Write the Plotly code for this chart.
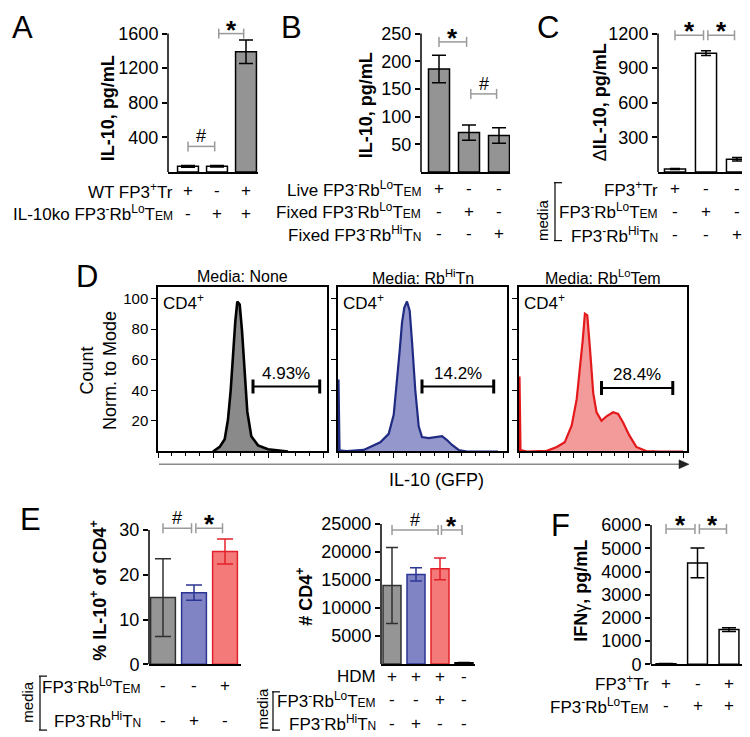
import plotly.graph_objects as go

W, H = 750, 737
FONT = "Liberation Sans, Arial, Helvetica, sans-serif"


def X(px):
    return px / W


def Y(py):
    return 1 - py / H


EM = "<span style='font-size:12px'>EM</span>"
TN = "<span style='font-size:12px'>N</span>"
LO_EM = "FP3<sup>-</sup>Rb<sup>Lo</sup>T" + EM
HI_N = "FP3<sup>-</sup>Rb<sup>Hi</sup>T" + TN

# ---------------- data ----------------
# Panel A
A_values = [65, 65, 1390]
A_errors = [10, 8, 135]
A_ticks = [400, 800, 1200, 1600]
A_rows = ["WT FP3<sup>+</sup>Tr", "IL-10ko " + LO_EM]
A_signs = [["+", "-", "+"], ["-", "+", "+"]]
A_sig = [(0, 1, "#", 295), (1, 2, "*", 1600)]

# Panel B
B_values = [186, 71, 66]
B_errors = [25, 14, 14]
B_ticks = [50, 100, 150, 200, 250]
B_rows = ["Live " + LO_EM, "Fixed " + LO_EM, "Fixed " + HI_N]
B_signs = [["+", "-", "-"], ["-", "+", "-"], ["-", "-", "+"]]
B_sig = [(0, 1, "*", 235), (1, 2, "#", 141)]

# Panel C
C_values = [25, 1030, 110]
C_errors = [5, 20, 15]
C_ticks = [300, 600, 900, 1200]
C_rows = ["FP3<sup>+</sup>Tr", LO_EM, HI_N]
C_signs = [["+", "-", "-"], ["-", "+", "-"], ["-", "-", "+"]]
C_sig = [(0, 1, "*", 1185), (1, 2, "*", 1185)]

# Panel D (histograms, % of mode vs GFP channel)
D_titles = ["Media: None", "Media: Rb<sup>Hi</sup>Tn", "Media: Rb<sup>Lo</sup>Tem"]
D_pct = ["4.93%", "14.2%", "28.4%"]
D_ticks = [20, 40, 60, 80, 100]
D1_x = [55, 61.7, 66.7, 70, 72.7, 75, 77.3, 79.3, 81.7, 84, 86.7, 89.3, 93.3, 100, 110, 123, 130]
D1_y = [0, 3, 8, 21, 40, 64, 85, 98, 96, 79, 51, 26, 10, 4, 1.5, 0.3, 0]
D2_x = [0, 0.5, 1.5, 3, 9, 25.7, 42.3, 50.7, 55.7, 59, 61.7, 64, 66.3, 69, 71.7, 74, 77.3,
        80.7, 84, 90.7, 97.7, 104, 109, 114, 120.7, 129, 160]
D2_y = [0, 47, 1, 0.5, 0.3, 1, 6, 11.5, 24, 45, 66, 84, 94, 98, 92, 72, 40,
        16.5, 9.4, 8.8, 9.4, 10, 7.5, 4.3, 1, 0, 0]
D3_x = [0, 0.5, 1.5, 8, 28, 38, 46, 53, 58, 61.3, 64, 66.3, 68.7, 71.3, 74.7, 78, 83, 88,
        94.7, 99.7, 104.7, 111, 118, 128, 141, 165]
D3_y = [0, 49, 1, 0, 0.4, 3, 6, 17, 34, 53, 72, 90, 89, 68, 38, 25.6, 20, 23,
        25.6, 24.6, 19, 10.5, 3, 0.3, 0, 0]
D_gates = [(95, 161.7, 42.5), (84, 155.7, 42.5), (83, 154.7, 41.5)]

# Panel E (left: % IL-10+, right: # CD4+)
E1_values = [14.9, 16.0, 25.2]
E1_errors = [8.7, 1.7, 2.8]
E1_ticks = [0, 10, 20, 30]
E1_rows = [LO_EM, HI_N]
E1_signs = [["-", "-", "+"], ["-", "+", "-"]]
E1_sig = [(0, 1, "#", 30.4), (1, 2, "*", 30.4)]

E2_values = [14000, 16000, 17000, 200]
E2_errors = [6800, 1200, 1950, 60]
E2_ticks = [5000, 10000, 15000, 20000, 25000]
E2_rows = ["HDM", LO_EM, HI_N]
E2_signs = [["+", "+", "+", "-"], ["-", "-", "+", "-"], ["-", "+", "-", "-"]]
E2_sig = [(0, 2, "#", 23950), (2, 3, "*", 23950)]

# Panel F
F_values = [30, 4370, 1500]
F_errors = [10, 640, 80]
F_ticks = [0, 1000, 2000, 3000, 4000, 5000, 6000]
F_rows = ["FP3<sup>+</sup>Tr", LO_EM]
F_signs = [["+", "-", "+"], ["-", "+", "+"]]
F_sig = [(0, 1, "*", 5830), (1, 2, "*", 5830)]

# ---------------- styles ----------------
GRAY = "#949494"
E_FILL = ["#959595", "#8084c4", "#f47a7a"]
E_LINE = ["#303030", "#2b3592", "#e4212a"]
BRK = "#9a9a9a"

fig = go.Figure()
layout = dict(width=W, height=H, margin=dict(l=0, r=0, t=0, b=0),
              paper_bgcolor="white", plot_bgcolor="rgba(0,0,0,0)", showlegend=False,
              font=dict(family=FONT, color="black", size=16))
annotations = []
shapes = []


def ann(text, x, y, size=17, xref="paper", yref="paper", xanchor="center",
        yanchor="middle", angle=0, color="black", **kw):
    annotations.append(dict(text=text, x=x, y=y, xref=xref, yref=yref, xanchor=xanchor,
                            yanchor=yanchor, showarrow=False, textangle=angle,
                            font=dict(size=size, family=FONT, color=color), **kw))


def ax_names(n):
    xa = "x" if n == 1 else f"x{n}"
    ya = "y" if n == 1 else f"y{n}"
    xk = "xaxis" if n == 1 else f"xaxis{n}"
    yk = "yaxis" if n == 1 else f"yaxis{n}"
    return xa, ya, xk, yk


def bar_panel(n, values, errors, fills, lines, errc, L, R, base_px, top_px, ext_val,
              c0, step, bar_w, tickvals, cap, rows, signs, row_px, label_x, sig):
    xa, ya, xk, yk = ax_names(n)
    top_val = tickvals[-1]
    ppu = (base_px - top_px) / top_val
    dom_top = base_px - ext_val * ppu
    r0, r1 = (L - c0) / step, (R - c0) / step
    layout[xk] = dict(domain=[X(L), X(R)], range=[r0, r1],
                      anchor=ya, showline=True, linecolor="black", linewidth=1.5,
                      showticklabels=False, ticks="", showgrid=False, zeroline=False,
                      fixedrange=True)
    layout[yk] = dict(domain=[Y(base_px), Y(dom_top)], range=[0, ext_val], anchor=xa,
                      showline=False, tickvals=tickvals, ticktext=[str(v) for v in tickvals],
                      ticks="outside", ticklen=5,
                      tickwidth=1.5, tickcolor="black", tickfont=dict(size=18, family=FONT),
                      showgrid=False, zeroline=False, fixedrange=True)
    shapes.append(dict(type="line", xref=f"{xa} domain", yref=ya, x0=0, x1=0, y0=0,
                       y1=top_val, line=dict(color="black", width=1.5)))
    for i, v in enumerate(values):
        fig.add_trace(go.Bar(x=[i], y=[v], width=bar_w,
                             marker=dict(color=fills[i], line=dict(color=lines[i], width=1.5)),
                             error_y=dict(type="data", array=[errors[i]], color=errc[i],
                                          thickness=1.5, width=cap),
                             xaxis=xa, yaxis=ya, hoverinfo="skip"))
    # row labels (domain-relative, may lie left of the axis) and +/- signs
    lab_dom = (label_x - r0) / (r1 - r0)
    for r, (lab, sg) in enumerate(zip(rows, signs)):
        ann(lab, lab_dom, Y(row_px[r]), size=17, xref=f"{xa} domain", xanchor="right")
        for i, s in enumerate(sg):
            ann(s, (i - r0) / (r1 - r0), Y(row_px[r]), size=17, xref=f"{xa} domain")
    # significance brackets
    for (i, j, sym, lvl) in sig:
        x0 = i + (0.06 if i > 0 else 0.0)
        x1 = j - 0.08
        shapes.append(dict(type="line", xref=xa, yref=ya, x0=x0, x1=x1, y0=lvl, y1=lvl,
                           line=dict(color=BRK, width=1.5)))
        for xe in (x0, x1):
            shapes.append(dict(type="line", xref=xa, yref=ya, x0=xe, x1=xe, ysizemode="pixel",
                               yanchor=lvl, y0=-5, y1=5, line=dict(color=BRK, width=1.5)))
        if sym == "*":
            ann("<b>*</b>", (x0 + x1) / 2, lvl, size=26, xref=xa, yref=ya, yshift=4)
        else:
            ann("#", (x0 + x1) / 2, lvl, size=18, xref=xa, yref=ya, yshift=10)


# A
bar_panel(1, A_values, A_errors, ["white", "white", GRAY], ["black"] * 3, ["black"] * 3,
          160, 250, 163, 22, 1700, 180, 29, 0.72, A_ticks, 7,
          A_rows, A_signs, [182, 205], -0.45, A_sig)
# B
bar_panel(2, B_values, B_errors, [GRAY] * 3, ["black"] * 3, ["black"] * 3,
          413, 502, 163, 22, 260, 431, 30, 0.7, B_ticks, 7,
          B_rows, B_signs, [180, 203, 226], -0.55, B_sig)
# C
bar_panel(3, C_values, C_errors, ["white"] * 3, ["black"] * 3, ["black"] * 3,
          650, 740, 163, 22, 1250, 667, 31, 0.68, C_ticks, 5,
          C_rows, C_signs, [180, 203, 227], -0.48, C_sig)
# E left
bar_panel(7, E1_values, E1_errors, E_FILL, E_LINE, E_LINE,
          141, 233, 665, 528, 34, 155, 31, 0.8, E1_ticks, 8,
          E1_rows, E1_signs, [687, 722], -0.65, E1_sig)
# E right
bar_panel(8, E2_values, E2_errors, E_FILL + ["#959595"], E_LINE + ["black"], E_LINE + ["black"],
          373, 467, 664.5, 522, 27000, 384, 24, 0.75, E2_ticks, 6,
          E2_rows, E2_signs, [677, 701, 725], -0.6, E2_sig)
# F
bar_panel(9, F_values, F_errors, ["white"] * 3, ["black"] * 3, ["black"] * 3,
          643, 737, 665, 523, 6300, 658, 31.5, 0.63, F_ticks, 7,
          F_rows, F_signs, [684, 707], -0.48, F_sig)

# D histograms
D_boxes = [(150, 319), (330, 499), (511, 679)]
D_series = [(D1_x, D1_y, "black", "#8a8a8a", 2.6),
            (D2_x, D2_y, "#1f2a82", "#9497cb", 2.2),
            (D3_x, D3_y, "#e3191c", "#f39a9a", 2.2)]
D_top, D_base = 280, 448
for k in range(3):
    n = 4 + k
    xa, ya, xk, yk = ax_names(n)
    L, R = D_boxes[k]
    layout[xk] = dict(domain=[X(L), X(R)], range=[0, 169], anchor=ya, showline=True,
                      mirror=True, linecolor="black", linewidth=1.5, showticklabels=False,
                      ticks="outside", tickvals=[0, 55, 110, 165], ticklen=5, tickwidth=1,
                      tickcolor="black",
                      minor=dict(ticks="outside", tick0=0, dtick=13.75, ticklen=3,
                                 tickcolor="black", tickwidth=1),
                      showgrid=False, zeroline=False, fixedrange=True)
    layout[yk] = dict(domain=[Y(D_base), Y(D_top)], range=[0, (D_base - D_top) / 1.56],
                      anchor=xa, showline=True, mirror=True, linecolor="black", linewidth=1.5,
                      tickvals=D_ticks, showticklabels=(k == 0),
                      ticks="outside", ticklen=5, tickwidth=1.2, tickcolor="black",
                      tickfont=dict(size=15, family=FONT),
                      showgrid=False, zeroline=False, fixedrange=True)
    xs, ys, lc, fc, lw = D_series[k]
    fig.add_trace(go.Scatter(x=xs, y=ys, mode="lines", line=dict(color=lc, width=lw),
                             fill="tozeroy", fillcolor=fc, xaxis=xa, yaxis=ya, hoverinfo="skip"))
    g0, g1, lvl = D_gates[k]
    shapes.append(dict(type="line", xref=xa, yref=ya, x0=g0, x1=g1, y0=lvl, y1=lvl,
                       line=dict(color="black", width=2)))
    for xe in (g0, g1):
        shapes.append(dict(type="line", xref=xa, yref=ya, x0=xe, x1=xe, ysizemode="pixel",
                           yanchor=lvl, y0=-7, y1=7, line=dict(color="black", width=3)))
    ann(D_pct[k], (g0 + g1) / 2, lvl, size=17, xref=xa, yref=ya, yshift=13)
    ann("CD4<sup>+</sup>", 0.02, 0.905, size=17, xref=f"{xa} domain", yref=f"{ya} domain",
        xanchor="left")
    ann(D_titles[k], 0.5, Y(270), size=16, xref=f"{xa} domain")

# D axis arrow (gray line + dark arrowhead) and titles
shapes.append(dict(type="line", xref="paper", yref="paper", x0=X(151), x1=X(672),
                   y0=Y(461), y1=Y(461), line=dict(color="#8a8a8a", width=1.5)))
shapes.append(dict(type="path", xref="paper", yref="paper",
                   path=f"M {X(671)} {Y(456.5)} L {X(681)} {Y(461)} L {X(671)} {Y(465.5)} Z",
                   fillcolor="#222222", line=dict(color="#222222", width=0.5)))
ann("IL-10 (GFP)", X(429), Y(477), size=18)
ann("Count<br>Norm. to Mode", X(90), Y(366), size=18, angle=-90)

# y-axis titles
ann("<b>IL-10, pg/mL</b>", X(100), Y(98), size=18, angle=-90)
ann("<b>IL-10, pg/mL</b>", X(358), Y(95), size=18, angle=-90)
ann("Δ<b>IL-10, pg/mL</b>", X(592), Y(92), size=18, angle=-90)
ann("<b>% IL-10<sup>+</sup> of CD4<sup>+</sup></b>", X(91), Y(590), size=18, angle=-90)
ann("<b># CD4<sup>+</sup></b>", X(297), Y(596), size=18, angle=-90)
ann("<b>IFN</b>γ<b>, pg/mL</b>", X(573), Y(590), size=18, angle=-90)

# panel letters
for letter, px, py in [("A", 14, 16), ("B", 283, 16), ("C", 540, 16), ("D", 79, 270),
                       ("E", 22, 517), ("F", 552, 523)]:
    ann(letter, X(px), Y(py), size=31)

# "media" brackets
for tx, ty, bx, b0, b1 in [(535, 212, 547, 174, 233), (20, 703, 32, 677, 732),
                           (255, 710, 265, 693, 732)]:
    ann("media", X(tx), Y(ty), size=15, angle=-90)
    shapes.append(dict(type="line", xref="paper", yref="paper", x0=X(bx), x1=X(bx),
                       y0=Y(b0), y1=Y(b1), line=dict(color="black", width=1.2)))
    for yy in (b0, b1):
        shapes.append(dict(type="line", xref="paper", yref="paper", x0=X(bx - 1), x1=X(bx + 7),
                           y0=Y(yy), y1=Y(yy), line=dict(color="black", width=1.2)))

layout["annotations"] = annotations
layout["shapes"] = shapes
fig.update_layout(**layout)
fig.write_html("out.html")
